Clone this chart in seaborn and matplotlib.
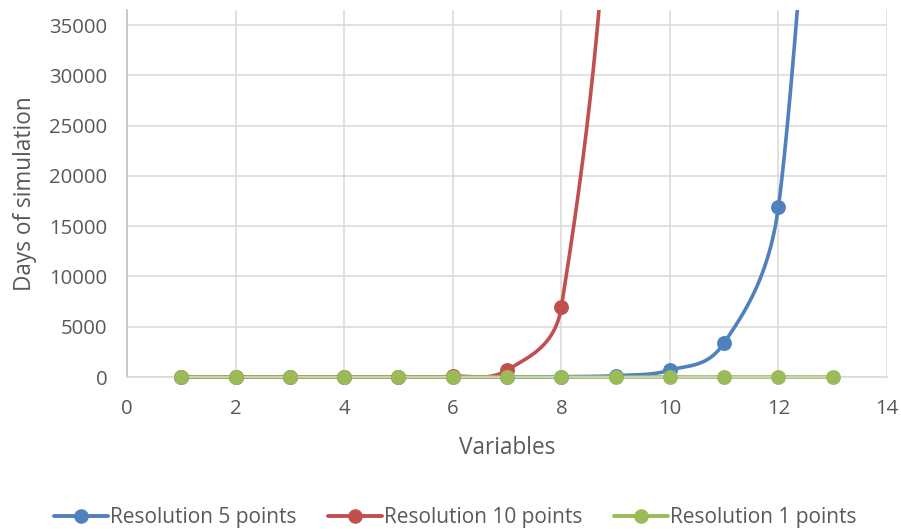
import numpy as np
import pandas as pd
import matplotlib
matplotlib.use("Agg")
import matplotlib.pyplot as plt
from matplotlib.lines import Line2D
from matplotlib.patches import Rectangle
import seaborn as sns

# Simulation time (days) by number of variables for each grid resolution
variables = [1, 2, 3, 4, 5, 6, 7, 8, 9, 10, 11, 12, 13]
res5_days = [0.0003, 0.0017, 0.0087, 0.043, 0.22, 1.1, 5.4, 27, 136, 680, 3400, 16950, 84750]
res10_vars = [1, 2, 3, 4, 5, 6, 7, 8, 9, 10]
res10_days = [0.0007, 0.007, 0.069, 0.69, 6.9, 69, 694, 6940, 69400, 694000]
res1_days = [0.0001, 0.0001, 0.0001, 0.0001, 0.0001, 0.0001, 0.0001, 0.0001, 0.0001, 0.0001, 0.0001, 0.0001, 0.0001]

series_names = ["Resolution 5 points", "Resolution 10 points", "Resolution 1 points"]
series_x = [variables, res10_vars, variables]
series_values = [res5_days, res10_days, res1_days]
colors = ["#4F81BD", "#C0504D", "#9BBB59"]

x_ticks = [0, 2, 4, 6, 8, 10, 12, 14]
y_ticks = [0, 5000, 10000, 15000, 20000, 25000, 30000, 35000]
x_max, y_max = 14, 36500


def smooth_curve(xs, ys, sx, sy, n=80):
    """Bezier smoothing through every point, control arms limited to half a segment."""
    p = np.column_stack([xs, ys]).astype(float)
    ext = np.vstack([p[0], p, p[-1]])
    scale = np.array([sx, sy])

    def dist(a, b):
        return float(np.hypot(*((b - a) * scale)))

    out = []
    t = np.linspace(0, 1, n)[:, None]
    for i in range(1, len(ext) - 2):
        p0, p1, p2, p3 = ext[i - 1], ext[i], ext[i + 1], ext[i + 2]
        d12 = dist(p1, p2)
        d02 = dist(p0, p2)
        d13 = dist(p1, p3)
        f1 = 1 / 6 if d02 / 6 < d12 / 2 or d02 == 0 else d12 / (2 * d02)
        f2 = 1 / 6 if d13 / 6 < d12 / 2 or d13 == 0 else d12 / (2 * d13)
        c1 = p1 + (p2 - p0) * f1
        c2 = p2 - (p3 - p1) * f2
        seg = ((1 - t) ** 3) * p1 + 3 * ((1 - t) ** 2) * t * c1 + 3 * (1 - t) * t ** 2 * c2 + t ** 3 * p2
        out.append(seg if i == 1 else seg[1:])
    arr = np.vstack(out)
    return arr[:, 0], arr[:, 1]


sns.set_theme(style="white")
plt.rcParams["font.family"] = ["Open Sans", "DejaVu Sans"]
text_color = "#595959"

fig = plt.figure(figsize=(9.01, 5.29), dpi=100)
ax = fig.add_axes([0.141, 0.2873, 0.8435, 0.6937])

# pixel scale of the data, used to size the curve's control arms
px_per_x = 0.8435 * 901 / x_max
px_per_y = 0.6937 * 529 / y_max

# lines are cut at the top of the plot but may spill below the zero line
line_clip = Rectangle((0, -0.05), 1, 1.05, transform=ax.transAxes, fill=False)

for name, xs, vals, col in zip(series_names, series_x, series_values, colors):
    cx, cy = smooth_curve(xs, vals, px_per_x, px_per_y)
    curve = pd.DataFrame({"x": cx, "y": cy})
    sns.lineplot(data=curve, x="x", y="y", sort=False, color=col, linewidth=2.6,
                 ax=ax, estimator=None)
    ax.lines[-1].set_clip_path(line_clip)
    pts = pd.DataFrame({"x": xs, "y": vals})
    pts = pts[pts["y"] <= y_max]
    sc = sns.scatterplot(data=pts, x="x", y="y", color=col, s=115, edgecolor=col,
                         linewidth=0, ax=ax, zorder=3)
    sc.collections[-1].set_clip_on(False)

ax.set_xlim(0, x_max)
ax.set_ylim(0, y_max)
ax.set_xticks(x_ticks)
ax.set_yticks(y_ticks)
ax.set_xticklabels([str(v) for v in x_ticks])
ax.set_yticklabels([str(v) for v in y_ticks])
ax.grid(True, color="#D9D9D9", linewidth=1.1)
ax.set_axisbelow(True)
for side in ["top", "right"]:
    ax.spines[side].set_visible(False)
ax.spines["left"].set_color("#BFBFBF")
ax.spines["bottom"].set_color("#D9D9D9")
ax.spines["left"].set_linewidth(1.1)
ax.spines["bottom"].set_linewidth(1.1)
ax.tick_params(axis="both", length=0, labelsize=14.7, colors=text_color)
ax.tick_params(axis="y", pad=14)
ax.tick_params(axis="x", pad=16)

ax.set_xlabel("Variables", fontsize=16.3, color=text_color, labelpad=12)
ax.set_ylabel("Days of simulation", fontsize=16.3, color=text_color, labelpad=9)

handles = [Line2D([0], [0], color=c, linewidth=2.8, marker="o", markersize=10.5,
                  markeredgewidth=0) for c in colors]
fig.legend(handles, series_names, loc="center", bbox_to_anchor=(0.505, 0.022),
           ncol=3, frameon=False, fontsize=15, handlelength=2.6, columnspacing=1.5,
           handletextpad=0.1, labelcolor=text_color)

fig.savefig("out.png", dpi=100)
